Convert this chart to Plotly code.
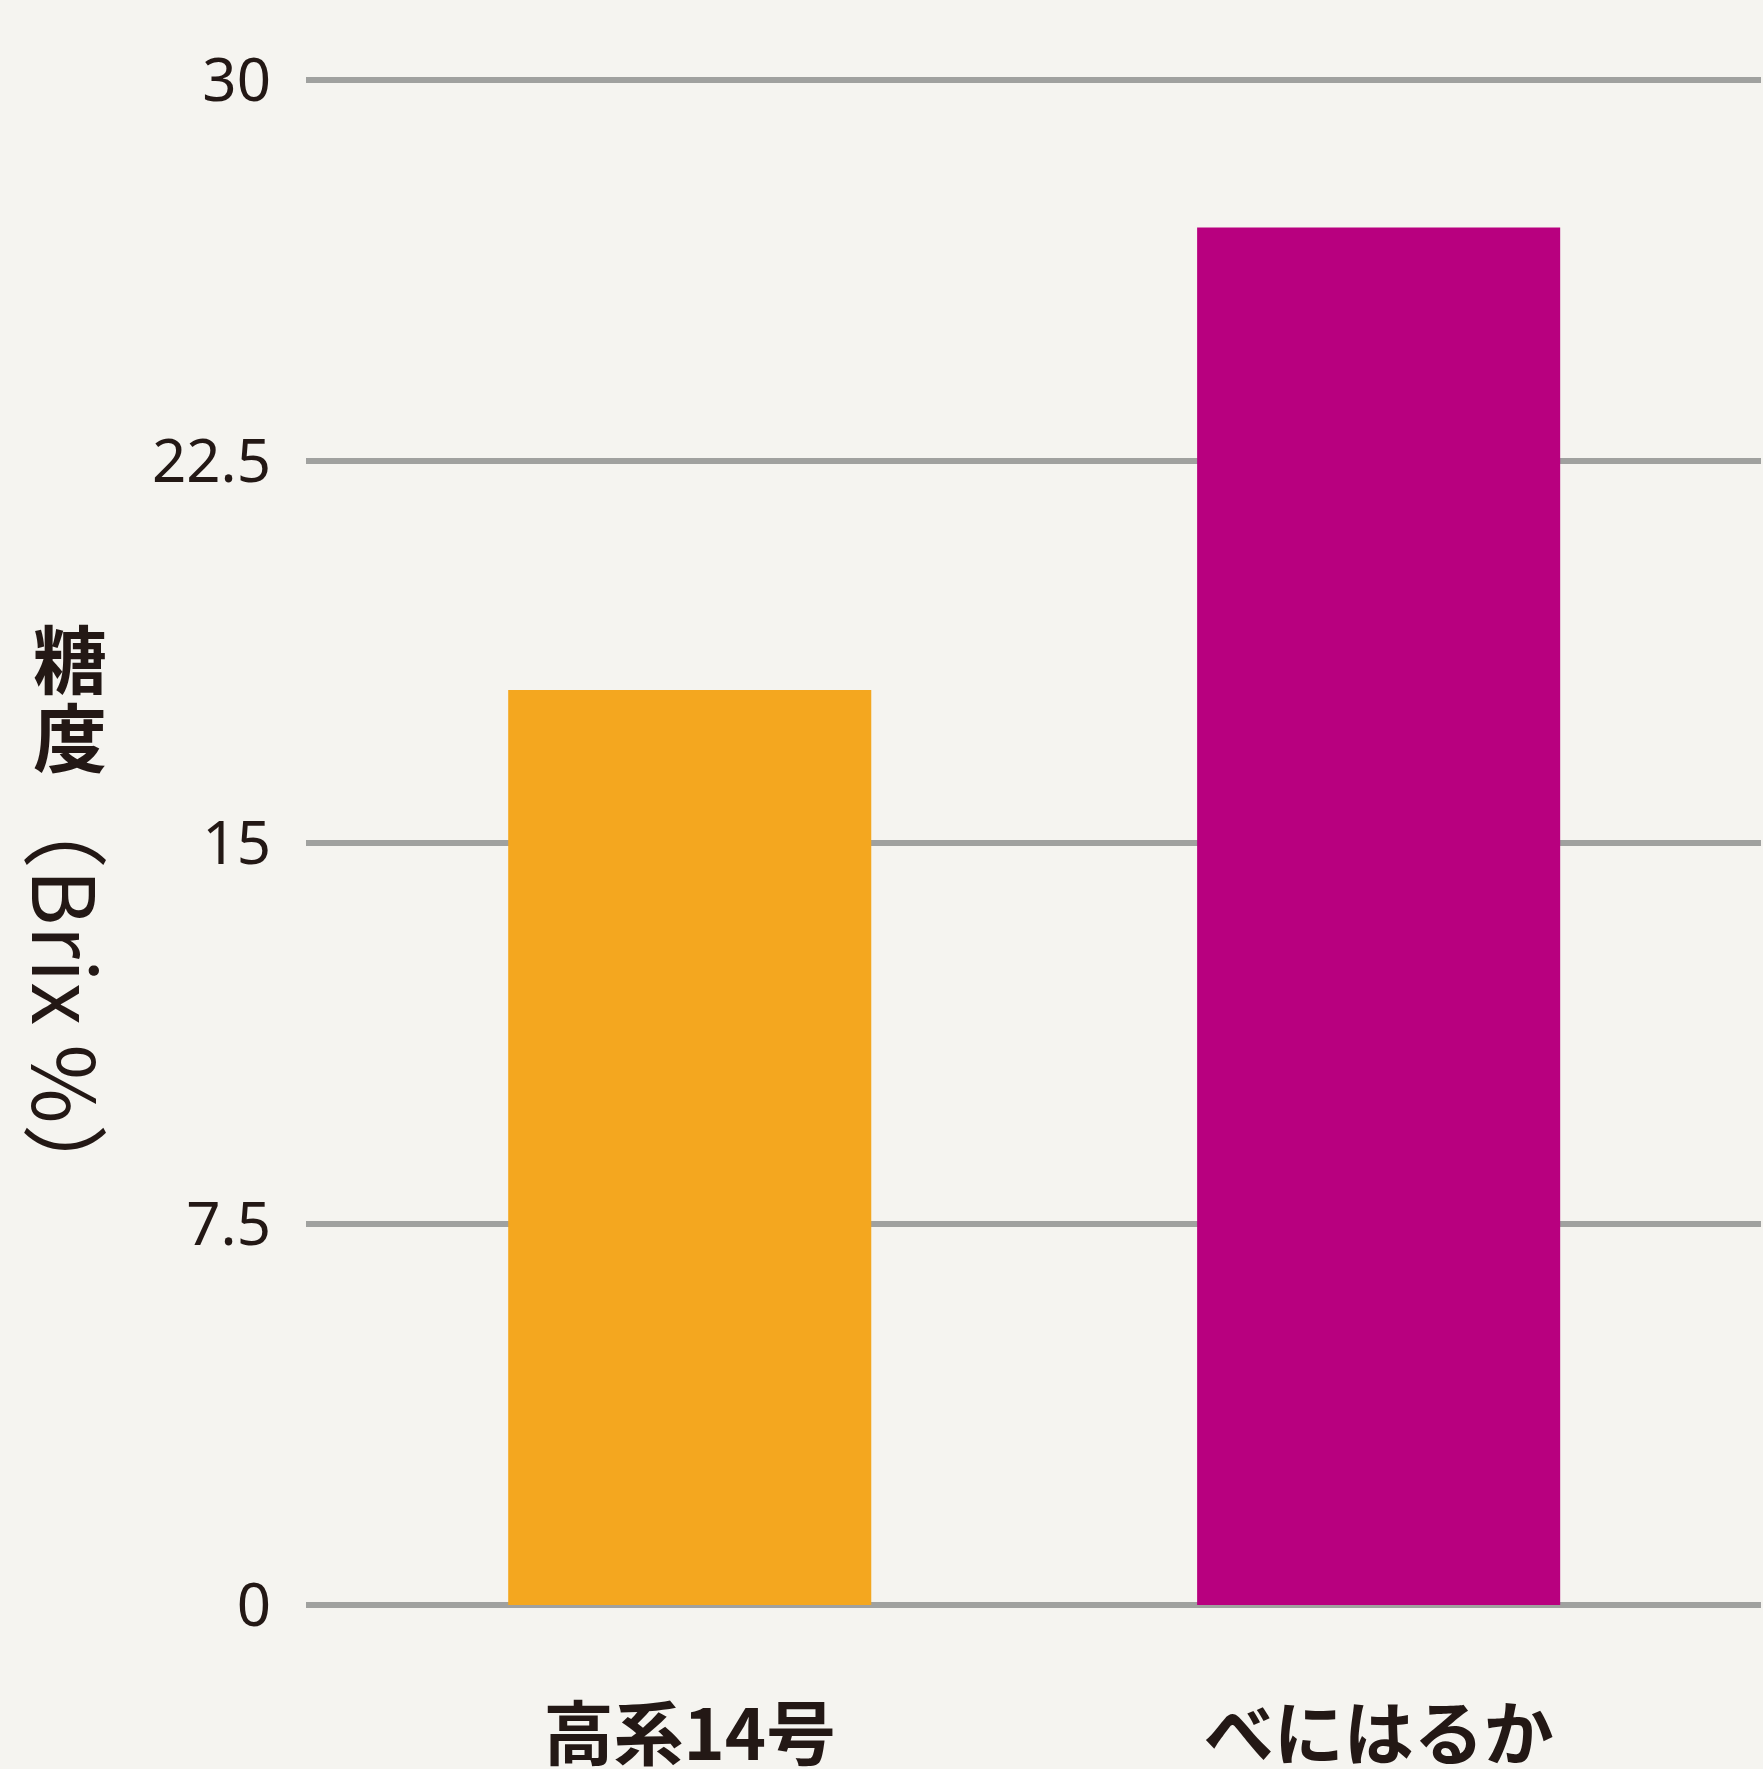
import plotly.graph_objects as go

categories = ["高系14号", "べにはるか"]
brix_values = [18.0, 27.1]
bar_colors = ["#F4A71F", "#B8007F"]
y_tick_vals = [0, 7.5, 15, 22.5, 30]
y_tick_text = ["0", "7.5", "15", "22.5", "30"]
title_chars = ["糖", "度"]
title_rest = "（Brix %）"

W, H = 1763, 1769
L, R, T, B = 306, 2, 75, 159
pw, ph = W - L - R, H - T - B

def px_x(x):
    return (x - L) / pw

def px_y(y):
    return (H - B - y) / ph

ink = "#231815"
bg = "#F5F4F0"

fig = go.Figure()
fig.add_trace(go.Bar(
    x=categories, y=brix_values,
    marker=dict(color=bar_colors, line=dict(width=0)),
    hoverinfo="skip",
))

fig.update_layout(
    width=W, height=H,
    margin=dict(l=L, r=R, t=T, b=B, pad=0, autoexpand=False),
    paper_bgcolor=bg, plot_bgcolor=bg,
    bargap=0.473,
    showlegend=False,
    font=dict(family="Noto Sans, Noto Sans CJK JP", color=ink),
)
fig.update_xaxes(
    range=[-0.557, 1.555], automargin=False,
    showgrid=False, zeroline=False, showline=False, ticks="",
    tickfont=dict(family="Noto Sans CJK JP", size=70, color=ink, weight="bold"),
    ticklabelstandoff=79,
)
fig.update_yaxes(
    range=[-0.1, 30.1], automargin=False,
    tickvals=y_tick_vals, ticktext=y_tick_text,
    showgrid=True, gridcolor="#A0A19F", gridwidth=6,
    zeroline=False, showline=False, ticks="",
    tickfont=dict(family="Noto Sans", size=60, color=ink),
    ticklabelstandoff=34,
)

ax_x = px_x(70)
stacked = "<br>".join(f'<span style="font-size:74px">{c}</span>' for c in title_chars)
fig.add_annotation(text=stacked, x=ax_x, y=px_y(695), xref="paper", yref="paper",
                   showarrow=False, xanchor="center", yanchor="middle",
                   font=dict(family="Noto Sans CJK JP", size=60, color=ink, weight="bold"))
fig.add_annotation(text=title_rest, x=ax_x, y=px_y(996), xref="paper", yref="paper",
                   showarrow=False, xanchor="center", yanchor="middle", textangle=90,
                   font=dict(family="Noto Sans CJK JP", size=86, color=ink))

fig.write_html("out.html", config={"displayModeBar": False},
               post_script="document.body.style.margin='0';document.body.style.padding='0';")
